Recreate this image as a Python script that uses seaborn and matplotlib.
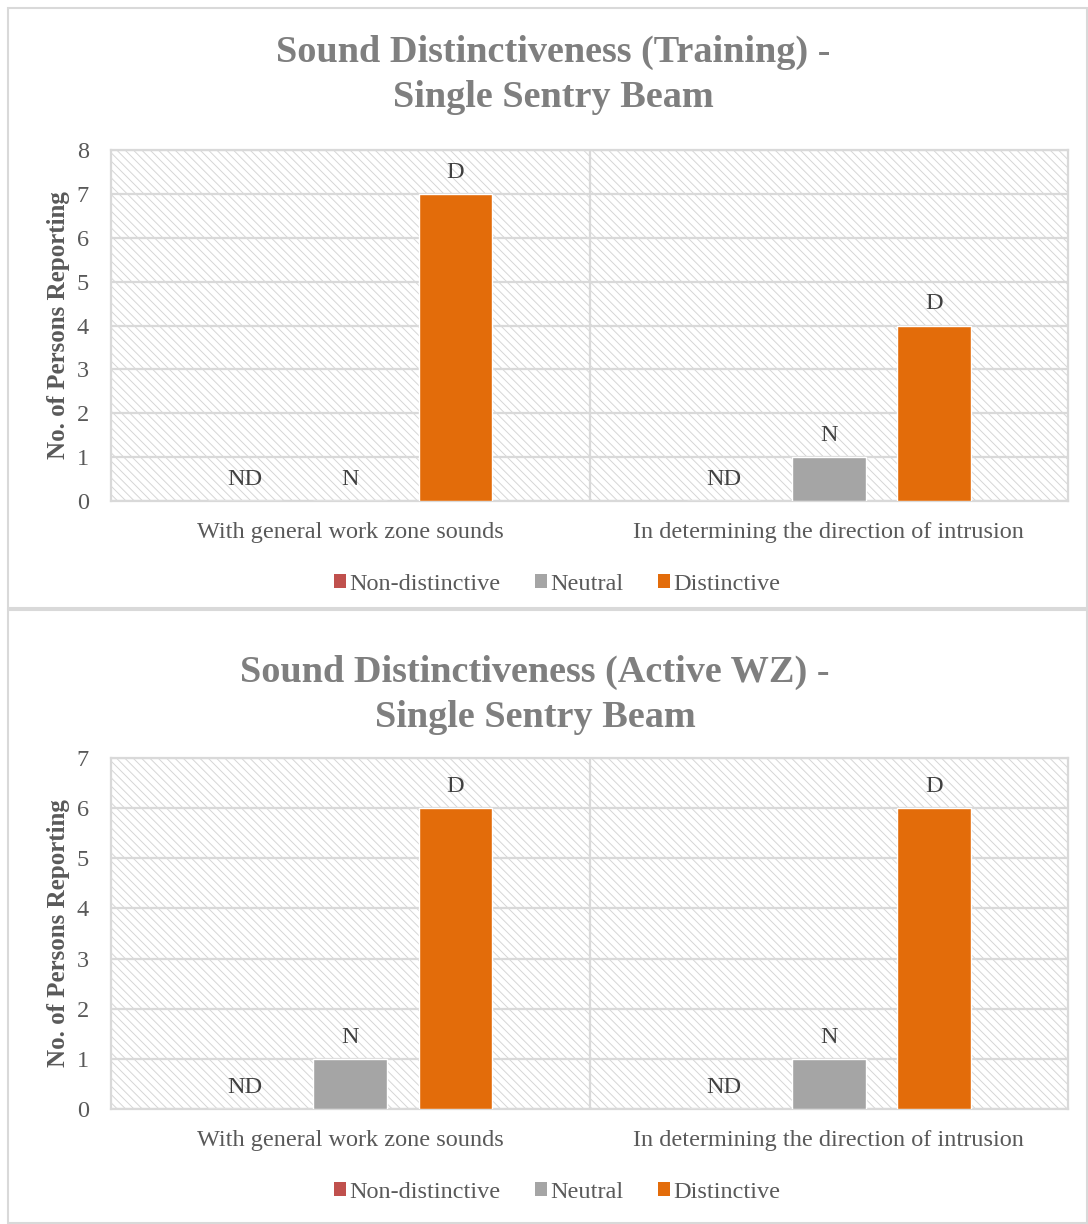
import numpy as np
import pandas as pd
import seaborn as sns
import matplotlib
matplotlib.use("Agg")
import matplotlib.pyplot as plt
from matplotlib.patches import Rectangle, Patch

# ---- data ----
situations = ["With general work zone sounds", "In determining the direction of intrusion"]
ratings = ["Non-distinctive", "Neutral", "Distinctive"]
rating_codes = ["ND", "N", "D"]

training_non_distinctive = [0, 0]
training_neutral = [0, 1]
training_distinctive = [7, 4]

active_non_distinctive = [0, 0]
active_neutral = [1, 1]
active_distinctive = [6, 6]

titles = ["Sound Distinctiveness (Training) -\nSingle Sentry Beam",
          "Sound Distinctiveness (Active WZ) -\nSingle Sentry Beam"]
y_maxes = [8, 7]

colors = ["#c0504d", "#a5a5a5", "#e36c0a"]

sns.set_theme(style="white")
plt.rcParams["font.family"] = ["Liberation Serif", "DejaVu Serif"]
plt.rcParams["hatch.color"] = "#d6d6d6"
plt.rcParams["hatch.linewidth"] = 0.7

W, H = 1088, 1224
fig = plt.figure(figsize=(W / 100, H / 100), dpi=100)


def long_frame(non, neu, dist):
    rows = []
    for i, s in enumerate(situations):
        for r, vals in zip(ratings, (non, neu, dist)):
            rows.append({"Situation": s, "Rating": r, "Count": vals[i]})
    return pd.DataFrame(rows)


frames = [long_frame(training_non_distinctive, training_neutral, training_distinctive),
          long_frame(active_non_distinctive, active_neutral, active_distinctive)]

# pixel geometry of each panel: (panel_top, panel_bottom, axes_top, axes_bottom, title_x, title_y)
panels = [(8, 608, 150, 501, 553, 75), (610, 1223, 758, 1109, 535, 695)]
ax_left, ax_right = 111, 1068
grid_col = "#d9d9d9"
text_col = "#595959"

for k, (df, (p_top, p_bot, a_top, a_bot, t_x, t_y)) in enumerate(zip(frames, panels)):
    # panel frame
    fig.patches.append(Rectangle((8 / W, 1 - p_bot / H), (W - 9) / W, (p_bot - p_top) / H,
                                 transform=fig.transFigure, fill=False,
                                 edgecolor=grid_col, linewidth=1.5, zorder=0))

    ax = fig.add_axes([ax_left / W, 1 - a_bot / H, (ax_right - ax_left) / W, (a_bot - a_top) / H])
    ax.set_facecolor("white")
    ax.add_patch(Rectangle((0, 0), 1, 1, transform=ax.transAxes, facecolor="white",
                           edgecolor="#d6d6d6", linewidth=0, hatch="\\\\\\\\", zorder=0))

    sns.barplot(data=df, x="Situation", y="Count", hue="Rating", hue_order=ratings,
                palette=colors, width=0.66, gap=0.3, saturation=1, legend=False,
                ax=ax, zorder=3)

    ymax = y_maxes[k]
    ax.set_ylim(0, ymax)
    ax.set_xlim(-0.5, 1.5)
    ax.set_yticks(range(0, ymax + 1))
    ax.yaxis.grid(True, color=grid_col, linewidth=1.6, zorder=1)
    ax.set_axisbelow(True)
    ax.axvline(0.5, color=grid_col, linewidth=1.6, zorder=1)
    for sp in ax.spines.values():
        sp.set_visible(True)
        sp.set_color(grid_col)
        sp.set_linewidth(1.6)
    ax.tick_params(axis="both", length=0, labelsize=17.5, labelcolor=text_col)
    ax.tick_params(axis="y", pad=16)
    ax.tick_params(axis="x", pad=15)
    ax.set_xlabel("")
    ax.set_ylabel("No. of Persons Reporting", fontsize=18, fontweight="bold", color=text_col)
    ax.yaxis.set_label_coords(-(ax_left - 70) / (ax_right - ax_left), 0.5)

    for cont, code in zip(ax.containers, rating_codes):
        ax.bar_label(cont, labels=[code] * len(cont), padding=8, fontsize=17.5, color="#404040")

    fig.text(t_x / W, 1 - t_y / H, titles[k],
             ha="center", va="center", fontsize=27.5, fontweight="bold", color="#7f7f7f",
             linespacing=1.4)

    handles = [Patch(facecolor=c, edgecolor="none", label=r) for c, r in zip(colors, ratings)]
    fig.legend(handles=handles, loc="center", ncol=3, frameon=False,
               bbox_to_anchor=(557 / W, 1 - (a_bot + 83) / H), fontsize=17.5,
               labelcolor=text_col, handlelength=0.5, handleheight=0.5,
               handletextpad=0.15, columnspacing=1.4)

fig.savefig("out.png", dpi=100)
